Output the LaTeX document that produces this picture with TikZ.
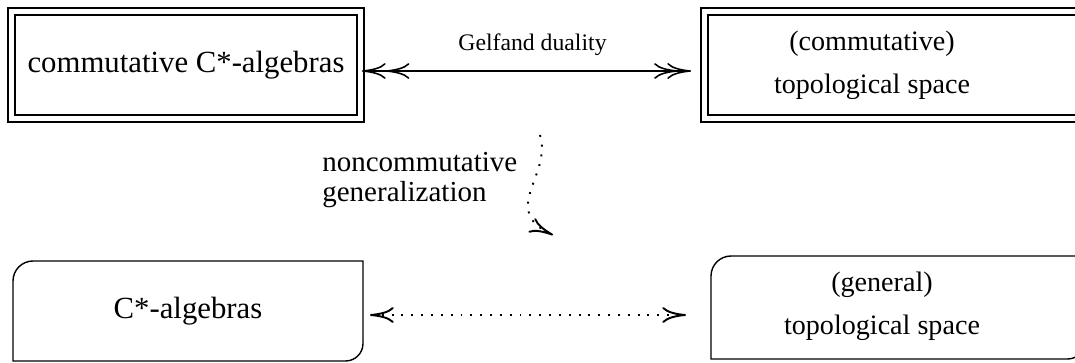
\documentclass[tikz,border=0pt]{standalone}
\usepackage{fontspec}
\setmainfont{Liberation Serif}
\usetikzlibrary{arrows.meta,positioning}

\tikzset{
  cmr/.tip={Computer Modern Rightarrow[length=13.5pt,width=9pt]},
  dualbox/.style={draw, double, double distance=3pt, line width=0.8pt, outer sep=0pt,
    minimum width=6.98cm, minimum height=2.14cm, align=center},
  genbox/.style={outer sep=0pt, minimum width=7cm, minimum height=2cm, align=center},
  boxline/.style={line width=0.8pt},
  dualarrow/.style={line width=0.9pt, arrows={{cmr[sep=-6pt]cmr}-{cmr[sep=-6pt]cmr}}},
  dotline/.style={line width=1.1pt, dash pattern=on 1.1pt off 4.5pt},
  dottip/.style={arrows={cmr-cmr}},
  bigtext/.style={font=\fontsize{17.5}{20}\selectfont},
  midtext/.style={font=\fontsize{16}{24.5}\selectfont, align=center},
}

% frame with two rounded corners (top left, bottom right)
\newcommand{\halfround}[1]{%
  \draw[boxline] (#1.north east) -- ([xshift=0.4cm]#1.north west)
    arc[start angle=90,end angle=180,radius=0.4cm] -- (#1.south west)
    -- ([xshift=-0.35cm]#1.south east) arc[start angle=270,end angle=360,radius=0.35cm] -- cycle;}

\begin{document}
\begin{tikzpicture}
  \useasboundingbox (0,0) rectangle (21.5,7.24);

  %top row
  \node[dualbox, bigtext] (ccs) at (3.72,5.94) {commutative C*-algebras};
  \node[dualbox, minimum width=7.61cm] (ctsframe) at (17.895,5.94) {};
  \node[midtext] (cts) at (17.44,5.94) {(commutative)\\ topological space};

  \draw[dualarrow, shorten <=0.24cm, shorten >=0.27cm] ([yshift=-0.12cm]ccs.east) --
    node[midway, above=0.17cm, font=\fontsize{13.5}{15}\selectfont] (gd) {Gelfand duality}
    ([yshift=-0.12cm]ctsframe.west);

  %bottom row
  \node[genbox, bigtext] (cst) at (3.76,1.02) {C*-algebras};
  \node[genbox, minimum width=7.48cm, minimum height=2.06cm] (gtsframe) at (17.96,1.09) {};
  \node[midtext] (gts) at (17.64,1.11) {(general)\\ topological space};
  \halfround{cst}
  \halfround{gtsframe}

  \draw[dotline, dottip, shorten <=0.14cm, shorten >=0.5cm] ([yshift=-0.08cm]cst.east) --
    ([yshift=-0.08cm]cst.east -| gtsframe.west);

  %generalization
  \coordinate (ngs) at (10.8,4.54);
  \coordinate (nge) at (11.06,2.54);
  \draw[dotline, -cmr] (ngs) .. controls +(0.25,-0.8) and +(-1.08,0.5) .. (nge);
  \node[anchor=west, inner sep=0pt, align=left, font=\fontsize{16.5}{17}\selectfont] (ncg) at (6.44,3.64) {noncommutative\\generalization};

\end{tikzpicture}
\end{document}
